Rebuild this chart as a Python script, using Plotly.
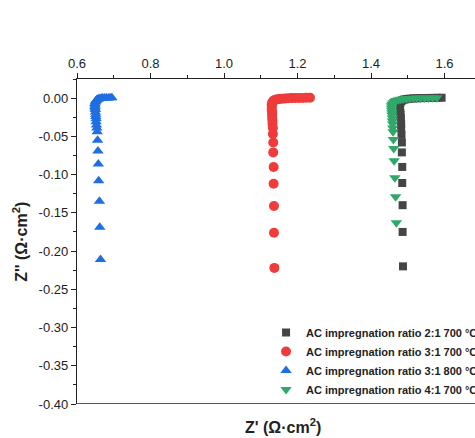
import plotly.graph_objects as go

# Nyquist data: Z' (real) and Z'' (imaginary), Ω·cm²
# AC impregnation ratio 2:1, 700 °C
zr_2_1_700 = [1.592, 1.580, 1.568, 1.556, 1.545, 1.534, 1.524, 1.515, 1.507, 1.500, 1.494,
              1.489, 1.485, 1.482, 1.480, 1.479, 1.479, 1.479, 1.479, 1.480, 1.480, 1.481,
              1.481, 1.482, 1.482, 1.483, 1.484, 1.484, 1.485, 1.485, 1.486, 1.486, 1.487]
zi_2_1_700 = [0.0005, 0.0004, 0.0003, 0.0002, 0.0001, 0.0, -0.0002, -0.0004, -0.0007, -0.001,
              -0.0015, -0.002, -0.003, -0.004, -0.006, -0.008, -0.010, -0.013, -0.016, -0.019,
              -0.022, -0.026, -0.030, -0.034, -0.039, -0.048, -0.058, -0.071, -0.090, -0.111,
              -0.140, -0.175, -0.220]

# AC impregnation ratio 3:1, 700 °C
zr_3_1_700 = [1.234, 1.224, 1.214, 1.204, 1.194, 1.184, 1.175, 1.166, 1.158, 1.151, 1.145,
              1.140, 1.136, 1.133, 1.131, 1.130, 1.130, 1.130, 1.130, 1.131, 1.131, 1.131,
              1.132, 1.132, 1.133, 1.133, 1.134, 1.134, 1.135, 1.135, 1.136, 1.136, 1.137]
zi_3_1_700 = [0.0005, 0.0004, 0.0003, 0.0002, 0.0001, 0.0, -0.0002, -0.0004, -0.0007, -0.001,
              -0.0015, -0.002, -0.003, -0.004, -0.006, -0.008, -0.010, -0.013, -0.016, -0.019,
              -0.022, -0.026, -0.030, -0.034, -0.039, -0.047, -0.058, -0.071, -0.090, -0.112,
              -0.141, -0.176, -0.222]

# AC impregnation ratio 3:1, 800 °C
zr_3_1_800 = [0.695, 0.690, 0.685, 0.680, 0.675, 0.670, 0.666, 0.662, 0.659, 0.656, 0.654,
              0.652, 0.651, 0.650, 0.649, 0.649, 0.649, 0.649, 0.650, 0.650, 0.651, 0.651,
              0.652, 0.652, 0.653, 0.654, 0.655, 0.656, 0.657, 0.658, 0.659, 0.661, 0.662,
              0.664]
zi_3_1_800 = [0.0005, 0.0004, 0.0003, 0.0002, 0.0001, 0.0, -0.0002, -0.0005, -0.001, -0.0015,
              -0.002, -0.003, -0.004, -0.005, -0.007, -0.009, -0.011, -0.013, -0.015, -0.018,
              -0.021, -0.024, -0.027, -0.031, -0.035, -0.039, -0.044, -0.055, -0.069, -0.086,
              -0.108, -0.135, -0.169, -0.211]

# AC impregnation ratio 4:1, 700 °C
zr_4_1_700 = [1.579, 1.568, 1.557, 1.546, 1.535, 1.525, 1.515, 1.505, 1.496, 1.488, 1.481,
              1.475, 1.469, 1.464, 1.460, 1.457, 1.456, 1.456, 1.456, 1.457, 1.457, 1.458,
              1.458, 1.459, 1.459, 1.460, 1.461, 1.462, 1.463, 1.465, 1.467, 1.469, 1.473]
zi_4_1_700 = [0.0005, 0.0004, 0.0003, 0.0002, 0.0001, 0.0, -0.0002, -0.0004, -0.0007, -0.001,
              -0.0015, -0.002, -0.003, -0.004, -0.006, -0.008, -0.010, -0.013, -0.016, -0.019,
              -0.022, -0.026, -0.030, -0.034, -0.039, -0.044, -0.054, -0.066, -0.082, -0.104,
              -0.129, -0.163]

x_ticks = [0.6, 0.8, 1.0, 1.2, 1.4, 1.6]
y_ticks = [0.00, -0.05, -0.10, -0.15, -0.20, -0.25, -0.30, -0.35, -0.40]
x_range = [0.6, 1.683]
y_range = [-0.40, 0.025]

series = [
    ("AC impregnation ratio 2:1 700 °C", zr_2_1_700, zi_2_1_700, "square", "#454545", 8),
    ("AC impregnation ratio 3:1 700 °C", zr_3_1_700, zi_3_1_700, "circle", "#ef3b3b", 10),
    ("AC impregnation ratio 3:1 800 °C", zr_3_1_800, zi_3_1_800, "triangle-up", "#1f6fe0", 10),
    ("AC impregnation ratio 4:1 700 °C", zr_4_1_700, zi_4_1_700, "triangle-down", "#2fa86a", 10),
]

fig = go.Figure()
for name, xs, ys, sym, col, size in series:
    fig.add_trace(go.Scatter(
        x=xs, y=ys, mode="markers", name=name,
        marker=dict(symbol=sym, color=col, size=size, line=dict(width=0)),
    ))

font_family = "Liberation Sans, Arial, sans-serif"
ink = "#222222"

fig.update_layout(
    width=475, height=438,
    # fixed margins so the legend does not shrink the plot area
    margin=dict(l=77, r=0, t=79, b=34, autoexpand=False),
    paper_bgcolor="white", plot_bgcolor="white",
    font=dict(family=font_family, color=ink),
    showlegend=True,
    legend=dict(
        x=0.475, xanchor="left", y=0.0, yanchor="bottom",
        bgcolor="rgba(0,0,0,0)", borderwidth=0,
        font=dict(size=11, family=font_family, color=ink, weight="bold"),
        tracegroupgap=0,
    ),
    xaxis=dict(
        side="top", range=x_range, tickvals=x_ticks,
        ticktext=[f"{v:.1f}" for v in x_ticks],
        showgrid=False, zeroline=False,
        showline=True, linecolor=ink, linewidth=1.3,
        ticks="outside", ticklen=5, tickwidth=1, tickcolor=ink,
        minor=dict(ticks="outside", ticklen=3, dtick=0.1, tickcolor=ink),
        tickfont=dict(size=13, color=ink),
    ),
    yaxis=dict(
        range=y_range, tickvals=y_ticks,
        ticktext=[f"{v:.2f}" for v in y_ticks],
        showgrid=False, zeroline=False,
        showline=True, linecolor=ink, linewidth=1.3,
        ticks="outside", ticklen=5, tickwidth=1, tickcolor=ink,
        minor=dict(ticks="outside", ticklen=3, dtick=0.025, tickcolor=ink),
        tickfont=dict(size=13, color=ink),
    ),
    shapes=[
        # bottom frame line along the lower edge of the axes (no ticks)
        dict(type="line", xref="x", yref="y", x0=x_range[0], x1=x_range[1],
             y0=y_range[0], y1=y_range[0],
             line=dict(color=ink, width=1.5), layer="above"),
    ],
    annotations=[
        dict(text="<b>Z' (Ω·cm<sup>2</sup>)</b>", xref="paper", yref="paper",
             x=0.518, y=-0.03, xanchor="center", yanchor="top", showarrow=False,
             font=dict(size=16, color=ink)),
        dict(text="<b>Z'' (Ω·cm<sup>2</sup>)</b>", xref="paper", yref="paper",
             x=-0.145, y=0.5, xanchor="center", yanchor="middle", showarrow=False,
             textangle=-90, font=dict(size=16, color=ink)),
    ],
)

fig.write_html("out.html")
